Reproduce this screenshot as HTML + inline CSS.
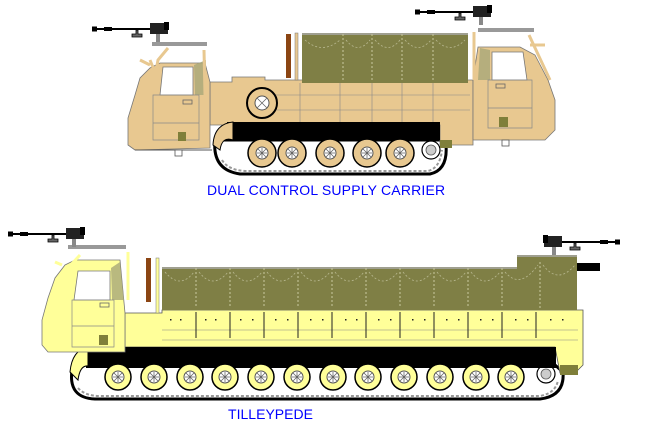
<!DOCTYPE html>
<html><head><style>
html,body{margin:0;padding:0;background:#fff;}
svg{display:block;}
text{font-family:"Liberation Sans",sans-serif;fill:#0000ff;}
</style></head><body>
<svg width="654" height="432" viewBox="0 0 654 432" xmlns="http://www.w3.org/2000/svg">
<defs>
<g id="gunL">
 <rect x="0" y="-1" width="60" height="2" fill="#000"/>
 <rect x="0" y="-2.5" width="5" height="5" fill="#000"/>
 <rect x="12" y="-2" width="8" height="4" fill="#000"/>
 <path d="M44 1 v4 h-4 v3 h10 v-3 h-4 v-4z" fill="#666" stroke="#000" stroke-width=".8"/>
 <rect x="58" y="-6" width="18" height="11" fill="#222"/>
 <rect x="72" y="-7" width="5" height="8" fill="#000"/>
 <rect x="64" y="5" width="4" height="8" fill="#888"/>
</g>
<g id="wheelT">
 <circle r="14" fill="#E8C890" stroke="#000" stroke-width="1.5"/>
 <circle r="6" fill="#fff" stroke="#555" stroke-width="1"/>
 <path d="M-4 -4L4 4M-4 4L4 -4M0 -5V5M-5 0H5" stroke="#666" stroke-width=".8"/>
</g>
<g id="wheelY">
 <circle r="13" fill="#FFFF99" stroke="#000" stroke-width="1.5"/>
 <circle r="6" fill="#fff" stroke="#555" stroke-width="1"/>
 <path d="M-4 -4L4 4M-4 4L4 -4M0 -5V5M-5 0H5" stroke="#666" stroke-width=".8"/>
</g>
</defs>

<!-- ================= TOP VEHICLE ================= -->
<path d="M215 140 Q212 170 240 174 L430 174 Q448 170 446 145 L440 140 Z" fill="#fff" stroke="#000" stroke-width="3"/>
<path d="M222 160 Q228 170 245 171 L428 171 Q440 168 442 150" fill="none" stroke="#999" stroke-width="2" stroke-dasharray="3 2"/>
<circle cx="431" cy="150" r="9" fill="#fff" stroke="#000" stroke-width="1.2"/>
<circle cx="431" cy="150" r="5" fill="#ccc" stroke="#555" stroke-width=".8"/>
<polygon points="210,82 232,82 232,77 265,77 265,80 473,80 473,145 440,145 440,125 210,125" fill="#E8C890" stroke="#777" stroke-width=".8"/>
<path d="M266 95 H470 M266 110 H470 M300 83 V122 M340 83 V122 M372 83 V122 M402 83 V122 M433 83 V122" stroke="#888" stroke-width=".6" fill="none"/>
<path d="M227 122 H440 V140 H227 Z" fill="#000"/>
<path d="M213 145 Q214 124 233 122 L233 140 Q222 136 220 150 Z" fill="#E8C890" stroke="#000" stroke-width="1"/>
<rect x="440" y="140" width="12" height="8" fill="#7F7F3A"/>
<use href="#wheelT" x="262" y="153"/><use href="#wheelT" x="292" y="153"/>
<use href="#wheelT" x="330" y="153"/><use href="#wheelT" x="367" y="153"/><use href="#wheelT" x="400" y="153"/>
<circle cx="262" cy="103" r="15" fill="#E8C890" stroke="#000" stroke-width="2"/>
<circle cx="262" cy="103" r="7" fill="#fff" stroke="#555"/>
<path d="M257 98L267 108M257 108L267 98" stroke="#666" stroke-width=".8"/>
<rect x="302" y="33" width="166" height="50" fill="#7F7F45"/>
<path d="M302 34 H468" stroke="#aaa" stroke-width="1.5"/>
<path d="M343 34 V82 M372 34 V82 M402 34 V82 M433 34 V82" stroke="#c8c8a0" stroke-width="1" stroke-dasharray="2 2"/>
<path d="M305 40 Q322 55 340 40 M346 40 Q358 55 370 40 M375 40 Q388 55 400 40 M405 40 Q418 55 431 40 M436 40 Q450 55 465 40" stroke="#b8b890" stroke-width=".8" fill="none" stroke-dasharray="2 2"/>
<rect x="286" y="34" width="5" height="44" fill="#8B4513"/>
<rect x="295" y="33" width="3" height="47" fill="#E8C890" stroke="#777" stroke-width=".5"/>
<path d="M135 150 L128 145 L128 118 L135 95 L140 78 L150 68 L160 63 L205 63 L210 82 L210 148 Z" fill="#E8C890" stroke="#777" stroke-width=".8"/>
<path d="M135 150 L212 150" stroke="#555"/>
<polygon points="163,67 193,67 193,95 160,95" fill="#fff" stroke="#777" stroke-width=".8"/>
<polygon points="194,65 206,60 206,95 195,95" fill="#a8a878" opacity=".8"/>
<path d="M153 95 H199 V140 H153 Z M153 123 H199" fill="none" stroke="#888" stroke-width=".7"/>
<rect x="183" y="100" width="9" height="4" fill="none" stroke="#666" stroke-width=".8"/>
<rect x="178" y="132" width="8" height="9" fill="#7F7F3A"/>
<rect x="175" y="150" width="7" height="6" fill="#fff" stroke="#555" stroke-width=".8"/>
<path d="M152 93 L158 60 L168 48 M205 95 L204 50 M150 65 L140 60 M158 80 L150 60" stroke="#E8C890" stroke-width="3" fill="none"/>
<rect x="152" y="42" width="55" height="4" fill="#999"/>
<use href="#gunL" x="92" y="29"/>
<path d="M473 80 L473 140 L545 140 L555 130 L555 100 L548 80 L535 55 L520 47 L478 47 Z" fill="#E8C890" stroke="#777" stroke-width=".8"/>
<polygon points="492,52 523,52 527,80 492,80" fill="#fff" stroke="#777" stroke-width=".8"/>
<polygon points="480,48 490,50 490,80 478,80" fill="#a8a878" opacity=".8"/>
<path d="M488 80 H532 V128 H488 Z M488 108 H532" fill="none" stroke="#888" stroke-width=".7"/>
<rect x="496" y="84" width="9" height="4" fill="none" stroke="#666" stroke-width=".8"/>
<rect x="499" y="117" width="9" height="10" fill="#7F7F3A"/>
<rect x="502" y="140" width="7" height="6" fill="#fff" stroke="#555" stroke-width=".8"/>
<path d="M474 80 L474 32 M529 35 L550 80 M530 45 L545 45" stroke="#E8C890" stroke-width="3" fill="none"/>
<rect x="478" y="28" width="56" height="4" fill="#999"/>
<g transform="translate(415,12)"><use href="#gunL"/></g>

<text x="207" y="195" font-size="14" letter-spacing="0.9" textLength="239">DUAL CONTROL SUPPLY CARRIER</text>

<!-- ================= BOTTOM VEHICLE ================= -->
<path d="M72 370 Q68 398 95 399 L540 399 Q565 396 563 372 L555 365 L80 365 Z" fill="#fff" stroke="#000" stroke-width="3"/>
<path d="M78 388 Q85 396 100 396 L540 396 Q556 393 558 380" fill="none" stroke="#999" stroke-width="2" stroke-dasharray="3 2"/>
<circle cx="546" cy="374" r="9" fill="#fff" stroke="#000" stroke-width="1.2"/>
<circle cx="546" cy="374" r="5" fill="#ccc" stroke="#555" stroke-width=".8"/>
<path d="M125 313 H162 V310 H583 V365 L575 373 L560 373 L555 347 H125 Z" fill="#FFFF99" stroke="#555" stroke-width=".8"/>
<path d="M162 330 H578 M162 340 H578" stroke="#888" stroke-width=".6"/>
<path d="M196 312 V338 M230 312 V338 M264 312 V338 M298 312 V338 M332 312 V338 M366 312 V338 M400 312 V338 M434 312 V338 M468 312 V338 M502 312 V338 M536 312 V338" stroke="#222" stroke-width="1"/>
<g fill="#222"><rect x="170" y="319" width="1.5" height="1.5"/><rect x="180" y="319" width="1.5" height="1.5"/><rect x="205" y="319" width="1.5" height="1.5"/><rect x="215" y="319" width="1.5" height="1.5"/><rect x="240" y="319" width="1.5" height="1.5"/><rect x="252" y="319" width="1.5" height="1.5"/><rect x="275" y="319" width="1.5" height="1.5"/><rect x="287" y="319" width="1.5" height="1.5"/><rect x="310" y="319" width="1.5" height="1.5"/><rect x="322" y="319" width="1.5" height="1.5"/><rect x="345" y="319" width="1.5" height="1.5"/><rect x="356" y="319" width="1.5" height="1.5"/><rect x="378" y="319" width="1.5" height="1.5"/><rect x="390" y="319" width="1.5" height="1.5"/><rect x="412" y="319" width="1.5" height="1.5"/><rect x="424" y="319" width="1.5" height="1.5"/><rect x="446" y="319" width="1.5" height="1.5"/><rect x="458" y="319" width="1.5" height="1.5"/><rect x="480" y="319" width="1.5" height="1.5"/><rect x="492" y="319" width="1.5" height="1.5"/><rect x="515" y="319" width="1.5" height="1.5"/><rect x="527" y="319" width="1.5" height="1.5"/><rect x="550" y="319" width="1.5" height="1.5"/><rect x="562" y="319" width="1.5" height="1.5"/></g>
<rect x="86" y="347" width="470" height="21" fill="#000"/>
<path d="M70 372 Q72 350 88 347 L88 366 Q80 365 78 380 Z" fill="#FFFF99" stroke="#000"/>
<rect x="560" y="365" width="18" height="10" fill="#7F7F3A"/>
<use href="#wheelY" x="118" y="377"/><use href="#wheelY" x="154" y="377"/><use href="#wheelY" x="190" y="377"/><use href="#wheelY" x="225" y="377"/>
<use href="#wheelY" x="261" y="377"/><use href="#wheelY" x="297" y="377"/><use href="#wheelY" x="333" y="377"/><use href="#wheelY" x="368" y="377"/>
<use href="#wheelY" x="404" y="377"/><use href="#wheelY" x="440" y="377"/><use href="#wheelY" x="476" y="377"/><use href="#wheelY" x="511" y="377"/>
<path d="M162 267 H517 V255 H577 V310 H162 Z" fill="#7F7F45"/>
<path d="M162 268 H517 M517 256 H577" stroke="#aaa" stroke-width="1.5"/>
<path d="M196 268 V308 M230 268 V308 M264 268 V308 M298 268 V308 M332 268 V308 M366 268 V308 M400 268 V308 M434 268 V308 M468 268 V308 M502 268 V308 M540 262 V308" stroke="#c8c8a0" stroke-width="1" stroke-dasharray="2 2"/>
<path d="M165 272 Q180 290 194 272 M199 272 Q213 290 228 272 M233 272 Q247 290 262 272 M267 272 Q281 290 296 272 M301 272 Q315 290 330 272 M335 272 Q349 290 364 272 M369 272 Q383 290 398 272 M403 272 Q417 290 432 272 M437 272 Q451 290 466 272 M471 272 Q485 290 500 272 M505 272 Q520 290 538 265 M543 265 Q558 285 575 265" stroke="#b8b890" stroke-width=".8" fill="none" stroke-dasharray="2 2"/>
<rect x="577" y="263" width="23" height="8" fill="#000"/>
<rect x="146" y="258" width="5" height="44" fill="#8B4513"/>
<rect x="156" y="258" width="3" height="55" fill="#FFFF99" stroke="#777" stroke-width=".5"/>
<path d="M48 352 L42 345 L42 320 L48 298 L55 278 L65 265 L75 260 L120 260 L125 313 L125 352 Z" fill="#FFFF99" stroke="#777" stroke-width=".8"/>
<polygon points="78,271 110,271 110,300 74,300" fill="#fff" stroke="#777" stroke-width=".8"/>
<polygon points="111,268 120,262 124,300 112,300" fill="#a8a878" opacity=".8"/>
<path d="M72 300 H114 V347 H72 Z M72 326 H114" fill="none" stroke="#888" stroke-width=".7"/>
<rect x="100" y="303" width="9" height="4" fill="none" stroke="#666" stroke-width=".8"/>
<rect x="99" y="335" width="9" height="10" fill="#7F7F3A"/>
<path d="M65 300 L68 268 L80 255 M128 300 L128 252 M62 265 L55 262" stroke="#FFFF99" stroke-width="3" fill="none"/>
<rect x="68" y="245" width="58" height="4" fill="#999"/>
<use href="#gunL" x="8" y="234"/>
<g transform="translate(620,242) scale(-1,1)"><use href="#gunL"/></g>

<text x="228" y="419" font-size="14" textLength="85">TILLEYPEDE</text>
</svg>
</body></html>
